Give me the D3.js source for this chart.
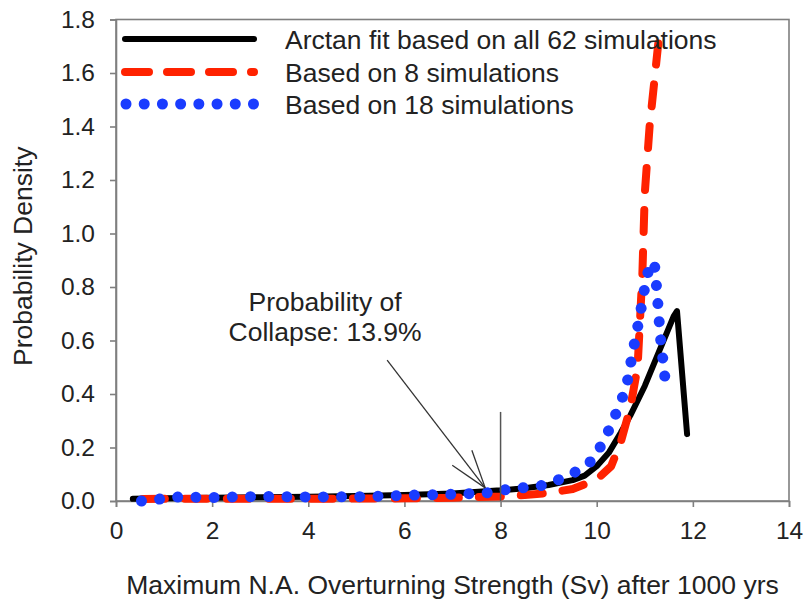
<!DOCTYPE html>
<html>
<head>
<meta charset="utf-8">
<script src="https://cdn.jsdelivr.net/npm/d3@7"></script>
<style>
  html, body { margin: 0; padding: 0; background: #fff; }
  svg { display: block; font-family: "Liberation Sans", Arial, sans-serif; }
</style>
</head>
<body>
<svg id="chart" width="804" height="605"></svg>
<script>
// ---- data ----
const xTicks = [0, 2, 4, 6, 8, 10, 12, 14];
const yTicks = [0, 0.2, 0.4, 0.6, 0.8, 1.0, 1.2, 1.4, 1.6, 1.8];

const seriesNames = [
  "Arctan fit based on all 62 simulations",
  "Based on 8 simulations",
  "Based on 18 simulations"
];

// Arctan fit (all 62)
const fitX = [0.35, 1, 2, 3, 4, 5, 6, 7, 8, 8.5, 9, 9.5, 9.75, 10.0, 10.25, 10.5, 10.7, 11.0, 11.3, 11.6, 11.67, 11.88];
const fitY = [0.008, 0.010, 0.012, 0.014, 0.016, 0.019, 0.022, 0.028, 0.040, 0.048, 0.060, 0.078, 0.095, 0.130, 0.180, 0.255, 0.32, 0.43, 0.56, 0.69, 0.71, 0.25];

// 8 simulations
const s8X = [0.25, 1, 2, 3, 4, 5, 6, 7, 7.5, 8, 8.5, 9, 9.5, 10, 10.3, 10.5, 10.7, 10.85, 10.95, 11.0, 11.1, 11.28];
const s8Y = [0.007, 0.008, 0.008, 0.008, 0.008, 0.009, 0.010, 0.012, 0.015, 0.017, 0.022, 0.030, 0.045, 0.080, 0.13, 0.22, 0.35, 0.50, 0.85, 1.15, 1.40, 1.71];

// 18 simulations
const s18X = [0.53, 0.9, 1.3, 2, 3, 4, 5, 5.5, 6.2, 7, 7.7, 8.05, 8.45, 8.82, 9.2, 9.55, 9.92, 10.13, 10.32, 10.46, 10.61, 10.75, 10.9, 11.03, 11.12, 11.2, 11.26, 11.32, 11.42];
const s18Y = [0.0, 0.007, 0.015, 0.013, 0.017, 0.015, 0.016, 0.018, 0.022, 0.025, 0.030, 0.041, 0.049, 0.056, 0.079, 0.108, 0.153, 0.22, 0.29, 0.355, 0.42, 0.557, 0.695, 0.83, 0.89, 0.89, 0.77, 0.62, 0.46];

// annotation (data units)
const annoText = ["Probability of", "Collapse: 13.9%"];
const annoTextPos = [4.35, 0.71, 0.60];     // x, y line1 baseline, y line2 baseline
const arrowFrom = [5.64, 0.527];
const arrowTo = [7.68, 0.049];
const markerX = 8;
const markerTop = 0.333;

// ---- layout ----
const svg = d3.select("#chart");
const W = 804, H = 605;
const margin = { left: 116, right: W - 789, top: 19.5, bottom: H - 501 };
svg.append("rect").attr("width", W).attr("height", H).attr("fill", "#fff");

const x = d3.scaleLinear().domain([0, 14]).range([margin.left, W - margin.right]);
const y = d3.scaleLinear().domain([0, 1.8]).range([H - margin.bottom, margin.top]);

const axisColor = "#7f7f7f";
const textColor = "#222";
const bigFont = "26.5px";

// frame
svg.append("rect")
  .attr("x", x(0)).attr("y", y(1.8))
  .attr("width", x(14) - x(0)).attr("height", y(0) - y(1.8))
  .attr("fill", "none").attr("stroke", axisColor).attr("stroke-width", 1.6);

// axes
const xAxis = svg.append("g")
  .attr("transform", `translate(0,${y(0)})`)
  .call(d3.axisBottom(x).tickValues(xTicks).tickSize(6).tickPadding(9).tickFormat(d3.format("d")));
const yAxis = svg.append("g")
  .attr("transform", `translate(${x(0)},0)`)
  .call(d3.axisLeft(y).tickValues(yTicks).tickSize(6).tickPadding(15).tickFormat(d3.format(".1f")));

[xAxis, yAxis].forEach(g => {
  g.select(".domain").attr("stroke", axisColor).attr("stroke-width", 1.6);
  g.selectAll(".tick line").attr("stroke", axisColor).attr("stroke-width", 1.6);
  g.selectAll(".tick text")
    .attr("fill", textColor)
    .style("font-size", "24.5px")
    .style("font-family", "Liberation Sans, Arial, sans-serif");
});
xAxis.selectAll(".tick text").attr("dy", "0.95em");

// axis titles
svg.append("text")
  .attr("x", (x(0) + x(14)) / 2).attr("y", 594)
  .attr("text-anchor", "middle")
  .attr("fill", textColor).style("font-size", bigFont)
  .text("Maximum N.A. Overturning Strength (Sv) after 1000 yrs");

svg.append("text")
  .attr("transform", `translate(32,${(y(0) + y(1.8)) / 2 - 4}) rotate(-90)`)
  .attr("text-anchor", "middle")
  .attr("fill", textColor).style("font-size", bigFont)
  .text("Probability Density");

// series
const line = d3.line().x(d => x(d[0])).y(d => y(d[1])).curve(d3.curveLinear);
const fitData = fitX.map((v, i) => [v, fitY[i]]);
const s8Data = s8X.map((v, i) => [v, s8Y[i]]);
const s18Data = s18X.map((v, i) => [v, s18Y[i]]);

const styles = [
  { color: "#000000", width: 6, dash: null, cap: "round", period: 0, endPos: 0 },
  { color: "#ff2200", width: 8, dash: "22 20", cap: "round", period: 42, endPos: 21 },
  { color: "#1a3cff", width: 11, dash: "0.01 18.2", cap: "round", period: 18.21, endPos: 0.005 }
];

const datasets = [fitData, s8Data, s18Data];
datasets.forEach((data, i) => {
  const s = styles[i];
  const p = svg.append("path")
    .datum(data)
    .attr("d", line)
    .attr("fill", "none")
    .attr("stroke", s.color)
    .attr("stroke-width", s.width)
    .attr("stroke-linecap", s.cap)
    .attr("stroke-linejoin", "round")
    .attr("stroke-dasharray", s.dash);
  if (i === 1) {
    const L = p.node().getTotalLength();
    const off = ((s.endPos - L) % s.period + s.period) % s.period;
    p.attr("stroke-dashoffset", off);
  }
});

// annotation
svg.append("line")
  .attr("x1", x(markerX)).attr("x2", x(markerX))
  .attr("y1", y(0)).attr("y2", y(markerTop))
  .attr("stroke", "#555").attr("stroke-width", 1.5);

const ax1 = x(arrowFrom[0]), ay1 = y(arrowFrom[1]);
const ax2 = x(arrowTo[0]), ay2 = y(arrowTo[1]);
svg.append("line")
  .attr("x1", ax1).attr("y1", ay1).attr("x2", ax2).attr("y2", ay2)
  .attr("stroke", "#333").attr("stroke-width", 1.3);
const ang = Math.atan2(ay2 - ay1, ax2 - ax1);
const headLen = 40, headAng = 18 * Math.PI / 180;
[-1, 1].forEach(sgn => {
  const a = ang + Math.PI + sgn * headAng;
  svg.append("line")
    .attr("x1", ax2 + headLen * Math.cos(a)).attr("y1", ay2 + headLen * Math.sin(a))
    .attr("x2", ax2).attr("y2", ay2)
    .attr("stroke", "#333").attr("stroke-width", 1.3);
});

annoText.forEach((t, i) => {
  svg.append("text")
    .attr("x", x(annoTextPos[0])).attr("y", y(annoTextPos[1 + i]))
    .attr("text-anchor", "middle")
    .attr("fill", textColor).style("font-size", bigFont)
    .text(t);
});

// legend
const legX0 = 125, legX1 = 254, legTextX = 285;
const legY = [39, 72, 104];
seriesNames.forEach((name, i) => {
  const s = styles[i];
  svg.append("line")
    .attr("x1", legX0 + (i === 2 ? 1 : 0)).attr("x2", legX1)
    .attr("y1", legY[i]).attr("y2", legY[i])
    .attr("stroke", s.color).attr("stroke-width", s.width)
    .attr("stroke-linecap", s.cap)
    .attr("stroke-dasharray", i === 1 ? "24 18" : s.dash);
  svg.append("text")
    .attr("x", legTextX).attr("y", legY[i]).attr("dy", "0.36em")
    .attr("fill", textColor).style("font-size", bigFont)
    .text(name);
});
</script>
</body>
</html>
